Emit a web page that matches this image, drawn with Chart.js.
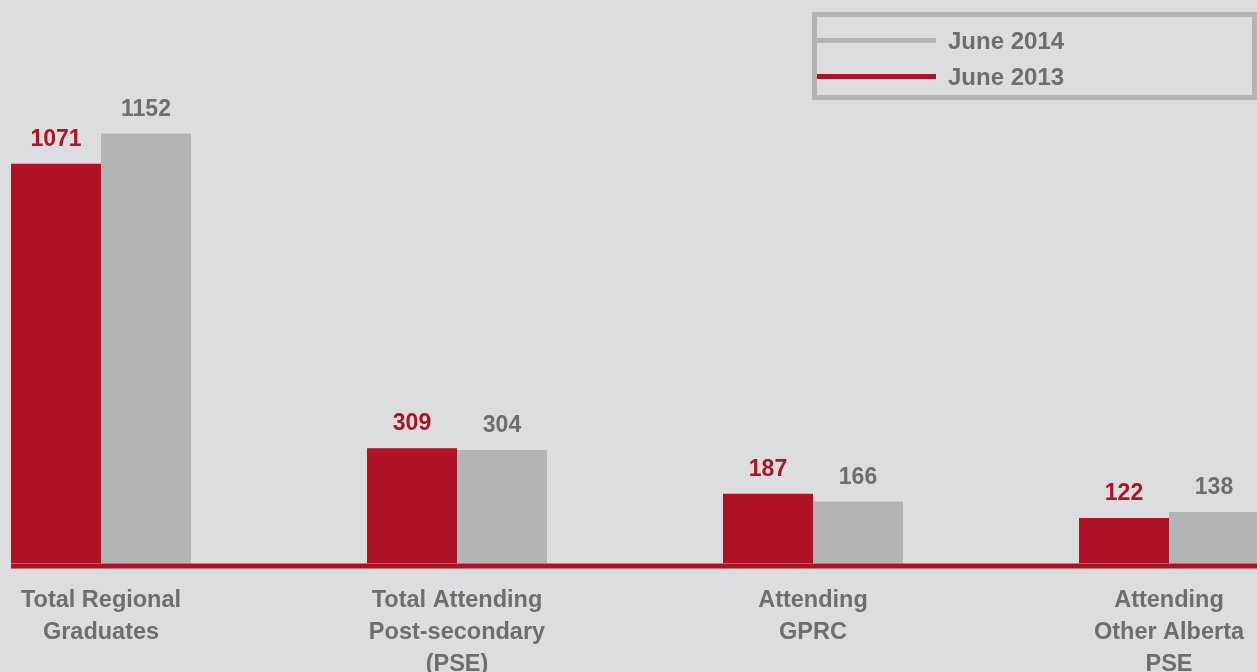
<!DOCTYPE html>
<html>
<head>
<meta charset="utf-8">
<script src="https://cdn.jsdelivr.net/npm/chart.js@4.4.1/dist/chart.umd.min.js"></script>
<style>
    html, body { margin: 0; padding: 0; background: #dcdddf; overflow: hidden; }
    body { width: 1257px; height: 672px; position: relative; font-family: "Liberation Sans", Arial, sans-serif; }
    #wrap { position: absolute; left: -77px; top: 0; width: 1424px; height: 672px; }
    #legend { position: absolute; left: 812px; top: 12px; width: 445px; height: 88px; box-sizing: border-box; border: 5px solid #b3b4b5; }
    .item { position: absolute; left: 0; height: 32px; width: 420px; }
    .swatch { position: absolute; left: 0; width: 119px; height: 5px; }
    .label { position: absolute; left: 131px; font-weight: bold; font-size: 24px; color: #6d6e70; line-height: 24px; }
</style>
</head>
<body>
<div id="wrap"><canvas id="chart"></canvas></div>
<div id="legend"></div>
<script>
document.addEventListener('DOMContentLoaded', () => {
    // Data
    const categories = [
        ['Total Regional', 'Graduates'],
        ['Total Attending', 'Post-secondary', '(PSE)'],
        ['Attending', 'GPRC'],
        ['Attending', 'Other Alberta', 'PSE']
    ];
    const june2013 = [1071, 309, 187, 122];
    const june2014 = [1152, 304, 166, 138];
    const seriesNames = ['June 2013', 'June 2014'];

    const red = '#ae1226';
    const grey = '#b3b4b5';
    const textGrey = '#6d6e70';

    // Legend box (2014 listed first, as in the original)
    const legend = document.getElementById('legend');
    [[seriesNames[1], grey, 21], [seriesNames[0], red, 57]].forEach(([name, color, top]) => {
        const item = document.createElement('div');
        item.className = 'item';
        item.style.top = top + 'px';
        item.innerHTML = '<div class="swatch" style="top:0;background:' + color + '"></div>' +
            '<div class="label" style="top:-9px">' + name + '</div>';
        legend.appendChild(item);
    });

    // Value labels above bars + red baseline
    const extras = {
        id: 'extras',
        afterDatasetsDraw(chart) {
            const ctx = chart.ctx;
            const area = chart.chartArea;
            const firstBar = chart.getDatasetMeta(0).data[0];
            ctx.save();
            ctx.fillStyle = red;
            ctx.fillRect(firstBar.x - firstBar.width / 2, area.bottom, chart.width, 5);

            ctx.font = 'bold 23px "Liberation Sans", Arial, sans-serif';
            ctx.textAlign = 'center';
            ctx.textBaseline = 'alphabetic';
            chart.data.datasets.forEach((ds, i) => {
                ctx.fillStyle = i === 0 ? red : textGrey;
                chart.getDatasetMeta(i).data.forEach((bar, j) => {
                    ctx.fillText(String(ds.data[j]), bar.x, bar.y - 18);
                });
            });
            ctx.restore();
        }
    };

    new Chart(document.getElementById('chart').getContext('2d'), {
        type: 'bar',
        data: {
            labels: categories,
            datasets: [
                { label: seriesNames[0], data: june2013, backgroundColor: red },
                { label: seriesNames[1], data: june2014, backgroundColor: grey }
            ]
        },
        options: {
            responsive: true,
            maintainAspectRatio: false,
            animation: false,
            layout: { padding: 0 },
            datasets: { bar: { barPercentage: 1, categoryPercentage: 0.5056 } },
            plugins: { legend: { display: false }, tooltip: { enabled: false } },
            scales: {
                x: {
                    grid: { display: false, drawTicks: false },
                    border: { display: false },
                    ticks: {
                        color: textGrey,
                        padding: 21,
                        maxRotation: 0,
                        autoSkip: false,
                        font: { family: '"Liberation Sans", Arial, sans-serif', size: 23.5, weight: 'bold', lineHeight: 32 / 23.5 }
                    },
                    afterFit: (scale) => { scale.height = 108.5; }
                },
                y: { display: false, min: 0, max: 1510 }
            }
        },
        plugins: [extras]
    });
});
</script>
</body>
</html>
